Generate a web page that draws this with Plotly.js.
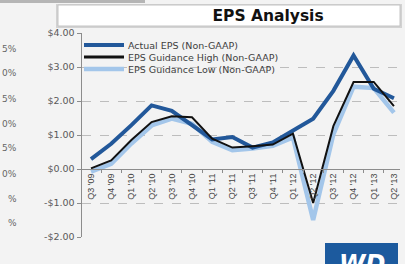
<!DOCTYPE html>
<html>
<head>
<meta charset="utf-8">
<script src="https://cdn.plot.ly/plotly-3.0.1.min.js"></script>
<style>
  html, body { margin: 0; padding: 0; background: #f3f3f3; }
  #chart { width: 405px; height: 264px; }
</style>
</head>
<body>
<div id="chart"></div>
<script>
// ---- data ----
const categories = ["Q3 '09","Q4 '09","Q1 '10","Q2 '10","Q3 '10","Q4 '10","Q1 '11","Q2 '11","Q3 '11","Q4 '11","Q1 '12","Q2 '12","Q3 '12","Q4 '12","Q1 '13","Q2 '13"];
const actualEPS    = [0.29, 0.74, 1.29, 1.87, 1.71, 1.29, 0.87, 0.94, 0.63, 0.78, 1.12, 1.48, 2.30, 3.34, 2.36, 2.08];
const guidanceHigh = [0.02, 0.25, 0.85, 1.38, 1.55, 1.52, 0.89, 0.63, 0.67, 0.72, 1.04, -1.00, 1.26, 2.56, 2.56, 1.85];
const guidanceLow  = [-0.08, 0.15, 0.75, 1.28, 1.48, 1.33, 0.80, 0.55, 0.60, 0.68, 0.93, -1.50, 1.02, 2.42, 2.38, 1.66];
const seriesNames  = ["Actual EPS (Non-GAAP)", "EPS Guidance High (Non-GAAP)", "EPS Guidance Low (Non-GAAP)"];
const yTickVals    = [4, 3, 2, 1, 0, -1, -2];
const yTickText    = ["$4.00", "$3.00", "$2.00", "$1.00", "$0.00", "-$1.00", "-$2.00"];
const sideLabels   = ["5%", "0%", "5%", "0%", "5%", "0%", "%", "%"];
const chartTitle   = "EPS Analysis";

// ---- layout helpers ----
const W = 405, H = 264, L = 82, R = 5, T = 33, B = 27;
const PW = W - L - R, PH = H - T - B;
const px = p => (p - L) / PW;
const py = p => (H - B - p) / PH;
const yMin = -2, yMax = 4;

const cActual = '#22589a', cHigh = '#111111', cLow = '#a3c6ea';

const traces = [
  { x: categories, y: guidanceLow, type: 'scatter', mode: 'lines', name: seriesNames[2],
    line: { color: cLow, width: 4.5 }, showlegend: false },
  { x: categories, y: actualEPS, type: 'scatter', mode: 'lines', name: seriesNames[0],
    line: { color: cActual, width: 4 }, showlegend: false },
  { x: categories, y: guidanceHigh, type: 'scatter', mode: 'lines', name: seriesNames[1],
    line: { color: cHigh, width: 2 }, showlegend: false }
];

const legendColors = [cActual, cHigh, cLow];
const legendWidths = [4, 3, 4.5];
const legendRows = [45, 57, 69];

const shapes = [
  { type: 'rect', xref: 'paper', yref: 'paper', x0: px(0), x1: px(145), y0: py(0), y1: py(3),
    fillcolor: '#b5b5b5', line: { width: 0 }, layer: 'below' },
  { type: 'rect', xref: 'paper', yref: 'paper', x0: px(56), x1: px(402), y0: py(4), y1: py(28),
    fillcolor: '#d2d2d2', line: { width: 0 }, layer: 'below' },
  { type: 'rect', xref: 'paper', yref: 'paper', x0: px(58), x1: px(400), y0: py(5), y1: py(26),
    fillcolor: '#ffffff', line: { color: '#c4c4c4', width: 1 }, layer: 'below' },
  { type: 'rect', xref: 'paper', yref: 'paper', x0: px(325), x1: px(398), y0: py(243), y1: py(270),
    fillcolor: '#1c5a9e', line: { width: 0 }, layer: 'above' }
];
legendRows.forEach((r, i) => {
  shapes.push({ type: 'line', xref: 'paper', yref: 'paper', x0: px(84), x1: px(124), y0: py(r), y1: py(r),
    line: { color: legendColors[i], width: legendWidths[i] }, layer: 'above' });
});

const annotations = [];
seriesNames.forEach((n, i) => {
  annotations.push({ text: n, xref: 'paper', yref: 'paper', x: px(126), y: py(legendRows[i]),
    xanchor: 'left', yanchor: 'middle', showarrow: false,
    font: { family: 'DejaVu Sans', size: 9.5, color: '#404040' } });
});
const sideRows = [49, 73, 99, 124, 148, 174, 199, 223];
sideLabels.forEach((s, i) => {
  annotations.push({ text: s, xref: 'paper', yref: 'paper', x: px(19), y: py(sideRows[i]),
    xanchor: 'right', yanchor: 'middle', showarrow: false,
    font: { family: 'DejaVu Sans', size: 9, color: '#666666' } });
});
annotations.push({ text: 'WD', xref: 'paper', yref: 'paper', x: px(362), y: py(248),
  xanchor: 'center', yanchor: 'top', showarrow: false,
  font: { family: 'DejaVu Sans', size: 24, color: '#ffffff', weight: 700, style: 'italic' } });

const layout = {
  width: W, height: H,
  margin: { l: L, r: R, t: T, b: B, pad: 0 },
  paper_bgcolor: '#f3f3f3',
  plot_bgcolor: 'rgba(0,0,0,0)',
  showlegend: false,
  title: { text: chartTitle, x: 237 / W, y: 1 - 16 / H, xref: 'paper', xanchor: 'center', yanchor: 'middle',
    font: { family: 'DejaVu Sans', size: 15.5, color: '#111111', weight: 700 } },
  xaxis: {
    type: 'category', range: [-9 / 20.2, 15.3], fixedrange: true,
    anchor: 'free', position: (0 - yMin) / (yMax - yMin),
    showline: true, linecolor: '#8c8c8c', linewidth: 1,
    ticks: 'outside', tickson: 'boundaries', ticklen: 3, tickcolor: '#8c8c8c',
    tickangle: -90, showgrid: false, zeroline: false,
    tickfont: { family: 'Liberation Sans', size: 9, color: '#444444' }
  },
  yaxis: {
    range: [yMin, yMax], fixedrange: true,
    tickvals: yTickVals, ticktext: yTickText,
    showline: true, linecolor: '#8c8c8c', linewidth: 1.5,
    ticks: 'outside', ticklen: 4, tickcolor: '#8c8c8c',
    showgrid: true, gridcolor: '#bdbdbd', griddash: 'dash', gridwidth: 1,
    zeroline: false,
    tickfont: { family: 'DejaVu Sans', size: 9.5, color: '#595959' }
  },
  shapes: shapes,
  annotations: annotations
};

Plotly.newPlot('chart', traces, layout, { displayModeBar: false, staticPlot: true });
</script>
</body>
</html>
